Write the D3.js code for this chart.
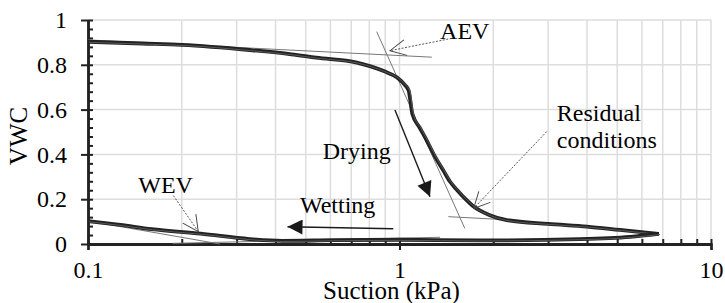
<!DOCTYPE html>
<html>
<head>
<meta charset="utf-8">
<script src="https://cdn.jsdelivr.net/npm/d3@7"></script>
<style>
  body { margin:0; background:#fff; }
</style>
</head>
<body>
<div id="chart"></div>
<script>
// data: suction (kPa), volumetric water content
const drying = [
  [0.1,0.903],[0.15,0.895],[0.2,0.889],[0.33,0.866],[0.45,0.847],[0.54,0.832],
  [0.73,0.81],[0.89,0.772],[0.98,0.744],[1.04,0.71],[1.07,0.685],[1.1,0.58],
  [1.16,0.52],[1.22,0.465],[1.3,0.39],[1.38,0.33],[1.45,0.28],[1.53,0.241],
  [1.63,0.2],[1.73,0.167],[1.94,0.13],[2.21,0.107],[3.0,0.09],[4.0,0.078],
  [5.1,0.063],[6.8,0.045]
];
const wetting = [
  [6.8,0.045],[5.5,0.032],[3.8,0.022],[1.8,0.016],[1.0,0.019],[0.61,0.017],
  [0.42,0.014],[0.33,0.022],[0.23,0.046],[0.16,0.066],[0.127,0.085],[0.1,0.102]
];
// thin tangent lines
const tangents = [
  [[0.1,0.911],[1.27,0.834]],
  [[0.845,0.948],[1.62,0.07]],
  [[1.435,0.122],[2.44,0.105]],
  [[0.1,0.103],[0.265,0.0]],
  [[0.187,0.003],[1.35,0.03]]
];
// dotted pointers: from label to tip
const pointers = [
  [[1.47,0.918],[0.932,0.863]],
  [[2.97,0.502],[1.73,0.159]],
  [[0.188,0.216],[0.226,0.055]]
];
// solid arrows
const arrows = [
  [[0.967,0.598],[1.253,0.211]],
  [[0.955,0.068],[0.437,0.077]]
];
const labels = [
  {t:"AEV", s:1.35, v:0.915},
  {t:"Drying", s:0.567, v:0.378},
  {t:"Wetting", s:0.479, v:0.137},
  {t:"WEV", s:0.145, v:0.226},
  {t:"Residual", s:3.2, v:0.55},
  {t:"conditions", s:3.2, v:0.428}
];
const xMajor = [0.1, 1, 10];
const xMinor = [0.2,0.3,0.4,0.5,0.6,0.7,0.8,0.9,2,3,4,5,6,7,8,9];
const yMajor = [0, 0.2, 0.4, 0.6, 0.8, 1];
const yMinor = d3.range(0, 1.001, 0.04);

const serif = "'Liberation Serif', 'Times New Roman', serif";

const margin = {top:20, right:14, bottom:59, left:88};
const width = 725 - margin.left - margin.right;
const height = 303 - margin.top - margin.bottom;

const svg = d3.select("#chart").append("svg")
  .attr("width", width + margin.left + margin.right)
  .attr("height", height + margin.top + margin.bottom)
  .style("font-family", serif);

const defs = svg.append("defs");
defs.append("marker")
  .attr("id", "solidHead")
  .attr("viewBox", "0 0 10 10")
  .attr("refX", 10).attr("refY", 5)
  .attr("markerUnits", "userSpaceOnUse")
  .attr("markerWidth", 17).attr("markerHeight", 15)
  .attr("orient", "auto")
  .append("path")
  .attr("d", "M0,0 L10,5 L0,10 Z")
  .attr("fill", "#1a1a1a");
defs.append("marker")
  .attr("id", "openHead")
  .attr("viewBox", "-1 -1 12 12")
  .attr("refX", 10).attr("refY", 5)
  .attr("markerUnits", "userSpaceOnUse")
  .attr("markerWidth", 19).attr("markerHeight", 19)
  .attr("orient", "auto")
  .append("path")
  .attr("d", "M0,0 L10,5 L0,10")
  .attr("fill", "none")
  .attr("stroke", "#444")
  .attr("stroke-width", 0.6);

const g = svg.append("g")
  .attr("transform", "translate(" + margin.left + "," + margin.top + ")");

const x = d3.scaleLog().domain([0.1, 10]).range([0, width]);
const y = d3.scaleLinear().domain([0, 1]).range([height, 0]);

// grid
g.append("g").selectAll("line")
  .data(xMinor.concat([1, 10])).enter().append("line")
  .attr("x1", d => x(d)).attr("x2", d => x(d))
  .attr("y1", 0).attr("y2", height)
  .attr("stroke", "#dddddd").attr("stroke-width", 1.5);
g.append("g").selectAll("line")
  .data(yMajor.slice(1)).enter().append("line")
  .attr("x1", 0).attr("x2", width)
  .attr("y1", d => y(d)).attr("y2", d => y(d))
  .attr("stroke", "#dddddd").attr("stroke-width", 1.5);

// axes
function styleAxis(sel) {
  sel.attr("font-family", serif);
  sel.selectAll("path.domain").attr("stroke", "#222").attr("stroke-width", 2.5);
  sel.selectAll(".tick line").attr("stroke", "#222").attr("stroke-width", 2);
  sel.selectAll("text")
    .style("font-family", serif)
    .style("font-size", "24px")
    .attr("fill", "#000");
}

g.append("g")
  .attr("transform", "translate(0," + height + ")")
  .call(d3.axisBottom(x).tickValues(xMinor).tickSize(-5).tickSizeOuter(0).tickFormat(""))
  .call(styleAxis);
g.append("g")
  .attr("transform", "translate(0," + height + ")")
  .call(d3.axisBottom(x).tickValues(xMajor).tickSizeInner(-5).tickSizeOuter(0).tickFormat(""))
  .call(styleAxis);
g.append("g")
  .attr("transform", "translate(0," + height + ")")
  .call(d3.axisBottom(x).tickValues(xMajor).tickSize(6).tickPadding(11).tickFormat(d3.format("")))
  .call(styleAxis);

g.append("g")
  .call(d3.axisLeft(y).tickValues(yMinor).tickSize(-5).tickSizeOuter(0).tickFormat(""))
  .call(styleAxis);
g.append("g")
  .call(d3.axisLeft(y).tickValues(yMajor).tickSize(7).tickSizeOuter(0).tickPadding(14).tickFormat(d3.format("")))
  .call(styleAxis);

// axis titles
g.append("text")
  .attr("transform", "translate(" + (27 - margin.left) + "," + (height / 2 + 4) + ") rotate(-90)")
  .attr("text-anchor", "middle")
  .style("font-family", serif)
  .style("font-size", "25px")
  .text("VWC");
g.append("text")
  .attr("x", width / 2 - 8)
  .attr("y", height + 55)
  .attr("text-anchor", "middle")
  .style("font-family", serif)
  .style("font-size", "25px")
  .text("Suction (kPa)");

const line = d3.line()
  .x(d => x(d[0]))
  .y(d => y(d[1]));
const curve = d3.line()
  .curve(d3.curveMonotoneX)
  .x(d => x(d[0]))
  .y(d => y(d[1]));

// tangents
g.append("g").selectAll("path")
  .data(tangents).enter().append("path")
  .attr("d", line)
  .attr("fill", "none")
  .attr("stroke", "#777")
  .attr("stroke-width", 1);

// measured curves
[drying, wetting.slice().reverse()].forEach(function (d) {
  g.append("path")
    .datum(d)
    .attr("d", curve)
    .attr("fill", "none")
    .attr("stroke", "#222")
    .attr("stroke-width", 3.8)
    .attr("stroke-linejoin", "round");
  g.append("path")
    .datum(d)
    .attr("d", curve)
    .attr("transform", "translate(1.2,0.6)")
    .attr("fill", "none")
    .attr("stroke", "#666")
    .attr("stroke-width", 0.8);
});

// pointers
g.append("g").selectAll("path")
  .data(pointers).enter().append("path")
  .attr("d", line)
  .attr("fill", "none")
  .attr("stroke", "#444")
  .attr("stroke-width", 0.9)
  .attr("stroke-dasharray", "2,1.5")
  .attr("marker-end", "url(#openHead)");

// arrows
g.append("g").selectAll("path")
  .data(arrows).enter().append("path")
  .attr("d", line)
  .attr("fill", "none")
  .attr("stroke", "#1a1a1a")
  .attr("stroke-width", 1.4)
  .attr("marker-end", "url(#solidHead)");

// labels
g.append("g").selectAll("text")
  .data(labels).enter().append("text")
  .attr("x", d => x(d.s))
  .attr("y", d => y(d.v))
  .style("font-family", serif)
  .style("font-size", "24px")
  .text(d => d.t);
</script>
</body>
</html>
